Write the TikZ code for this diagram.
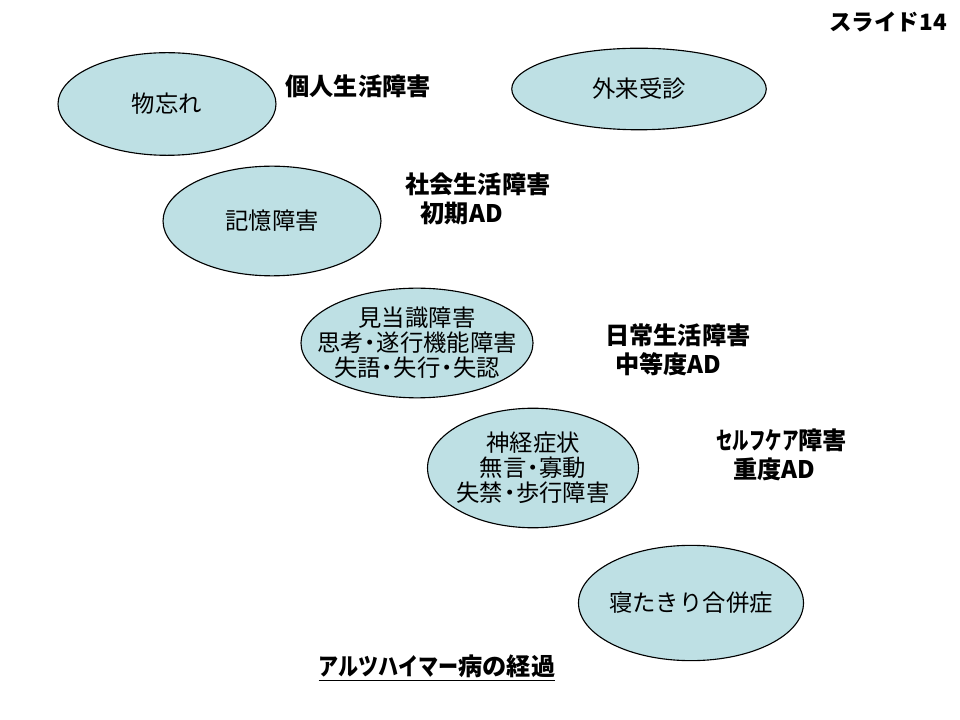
\documentclass[tikz,border=0pt]{standalone}
\usepackage{fontspec}
\newfontfamily\jp{Noto Sans CJK JP}
\usetikzlibrary{shapes.geometric}
\definecolor{pale}{RGB}{190,224,228}
\newcommand\nakaguro{\makebox[0.55em]{・}}
\newcommand\narrow[2]{\scalebox{#1}[1]{#2}}
\begin{document}
\begin{tikzpicture}[line cap=round,line join=round,x=0.025cm,y=-0.025cm,
  bub/.style={ellipse, draw, fill=pale, line width=0.8pt, inner sep=0pt},
  txt/.style={inner sep=0pt, align=center, font=\jp\fontsize{16.6}{17.8}\selectfont},
  lab/.style={inner sep=0pt, align=left, font=\jp\bfseries\fontsize{17.2}{20.5}\selectfont}]
                    \useasboundingbox (0,0) rectangle (960,720);

                    \node [bub, minimum width=155, minimum height=73] (wasure) at (167,104) {};
                    \node [bub, minimum width=181, minimum height=58] (gairai) at (639,89) {};
                    \node [bub, minimum width=155, minimum height=78] (kioku) at (272,221) {};
                    \node [bub, minimum width=165, minimum height=78] (kento) at (417,343) {};
                    \node [bub, minimum width=150, minimum height=85] (shinkei) at (533,468) {};
                    \node [bub, minimum width=160, minimum height=82] (netaki) at (691,603) {};

                    \node [txt] (wasuret) at (wasure) {物忘れ};
                    \node [txt] (gairait) at (gairai) {外来受診};
                    \node [txt] (kiokut) at (kioku) {記憶障害};
                    \node [txt] (kentot) at (kento) {見当識障害\\思考\nakaguro 遂行機能障害\\失語\nakaguro 失行\nakaguro 失認};
                    \node [txt] (shinkeit) at (shinkei) {神経症状\\無言\nakaguro 寡動\\失禁\nakaguro 歩行障害};
                    \node [txt] (netakit) at (netaki) {寝たきり合併症};

                    \node [lab] (kojin) at (358,86) {個人生活障害};
                    \node [lab, anchor=west] (shakai) at (405,199) {社会生活障害\\\hspace{11pt}初期AD};
                    \node [lab, anchor=west] (nichijo) at (605,350) {日常生活障害\\\hspace{7pt}中等度AD};
                    \node [lab, anchor=west] (selfcare) at (716,455) {\narrow{0.68}{セルフケア}障害\\\hspace{12pt}重度AD};

                    \node [lab, font=\jp\bfseries\fontsize{16}{20}\selectfont] (slide) at (888,22) {スライド14};
                    \node [lab] (title) at (437,668) {\underline{\narrow{0.83}{アルツハイマー}病の経過}};
                \end{tikzpicture}
\end{document}
